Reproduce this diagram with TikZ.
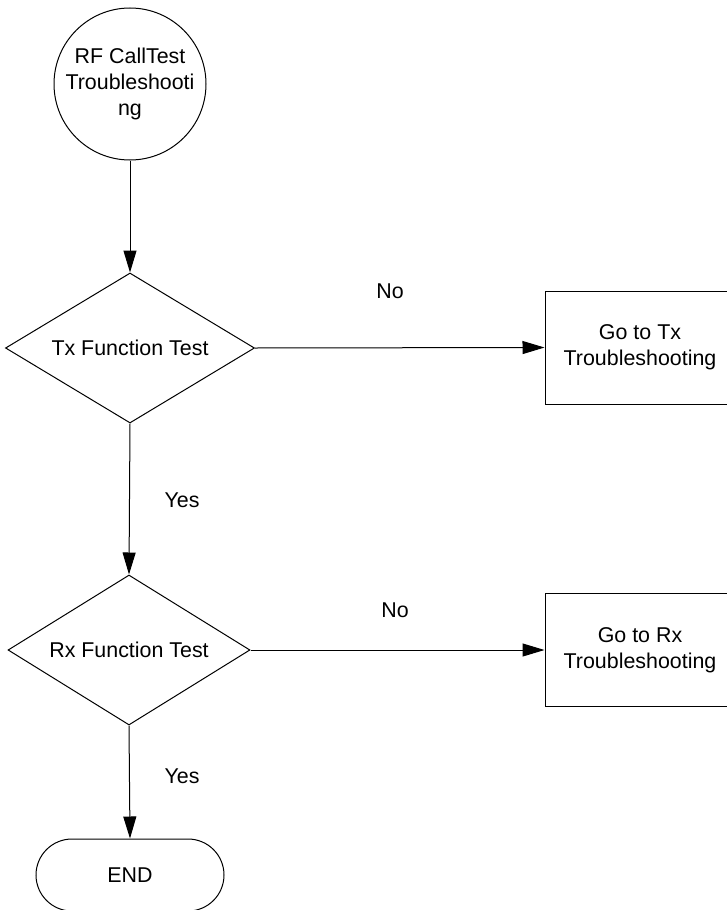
\documentclass[tikz,border=0pt]{standalone}
\usepackage{fontspec}
\setmainfont{Liberation Sans}
\usetikzlibrary{shapes.geometric,arrows.meta}
\tikzset{
  base/.style={draw=black, line width=0.5pt, inner sep=0pt, align=center,
    font=\fontsize{10.7}{13}\selectfont},
  startnode/.style={base, circle, minimum size=76pt},
  decision/.style={base, diamond, shape aspect=1.66, minimum width=124.5pt, minimum height=75pt},
  action/.style={base, rectangle, minimum width=95pt, minimum height=56.5pt},
  terminal/.style={base, rectangle, rounded corners=18pt, minimum width=94pt, minimum height=36pt},
  flow/.style={draw=black, line width=0.5pt, -{Triangle[length=11pt,width=6.5pt]}},
  lbl/.style={font=\fontsize{10.7}{13}\selectfont, inner sep=0pt}
}
\begin{document}
\begin{tikzpicture}[x=0.5pt, y=-0.5pt]
  \useasboundingbox (0,0) rectangle (727,910);
  \clip (0,0) rectangle (727,910);
  \fill[white] (0,0) rectangle (727,910);

  % flow chart shapes
  \node[startnode] (start) at (130,84) {RF CallTest\\Troubleshooti\\ng};
  \node[decision] (tx) at (130,348) {Tx Function Test};
  \node[action] (gotx) at (640,347.5) {Go to Tx\\Troubleshooting};
  \node[decision, minimum width=121pt] (rx) at (129,650) {Rx Function Test};
  \node[action] (gorx) at (640,650) {Go to Rx\\Troubleshooting};
  \node[terminal] (end) at (130,875) {END};

  % connectors
  \draw[flow] (start.south) -- (tx.north);
  \draw[flow] (tx.east) -- (gotx.west);
  \draw[flow] (tx.south) -- (rx.north);
  \draw[flow] (rx.east) -- (gorx.west);
  \draw[flow] (rx.south) -- (end.north);

  % branch labels
  \node[lbl] (no1) at (390,291) {No};
  \node[lbl] (yes1) at (182,500) {Yes};
  \node[lbl] (no2) at (395,610) {No};
  \node[lbl] (yes2) at (182,776) {Yes};
\end{tikzpicture}
\end{document}
